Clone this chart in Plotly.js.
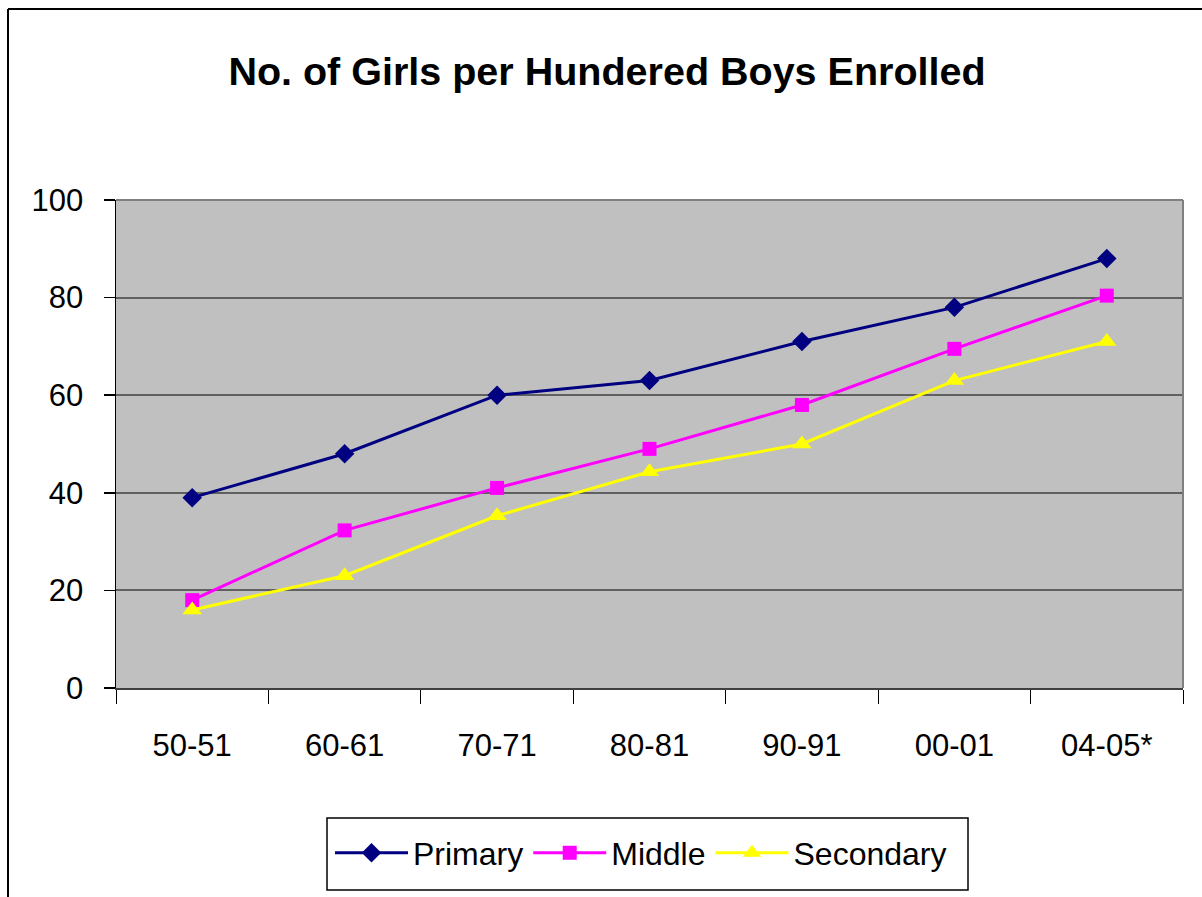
<!DOCTYPE html>
<html>
<head>
<meta charset="utf-8">
<script src="https://cdn.plot.ly/plotly-3.0.1.min.js"></script>
<style>
  html, body { margin: 0; padding: 0; background: #ffffff; }
  #chart { width: 1202px; height: 897px; }
</style>
</head>
<body>
<div id="chart"></div>
<script>
const categories = ["50-51", "60-61", "70-71", "80-81", "90-91", "00-01", "04-05*"];
const primary   = [39, 48, 60, 63, 71, 78, 88];
const middle    = [18, 32.3, 41, 49, 58, 69.5, 80.4];
const secondary = [16, 23, 35.3, 44.3, 50, 63, 71];
const yTicks = [0, 20, 40, 60, 80, 100];

const FONT = "Liberation Sans, Arial, sans-serif";

const traces = [
  { name: "Primary", x: categories, y: primary, type: "scatter", mode: "lines+markers",
    line: { color: "#000080", width: 3 },
    marker: { symbol: "diamond", size: 15, color: "#000080" } },
  { name: "Middle", x: categories, y: middle, type: "scatter", mode: "lines+markers",
    line: { color: "#FF00FF", width: 3 },
    marker: { symbol: "square", size: 14, color: "#FF00FF" } },
  { name: "Secondary", x: categories, y: secondary, type: "scatter", mode: "lines+markers",
    line: { color: "#FFFF00", width: 3 },
    marker: { symbol: "triangle-up", size: 17, color: "#FFFF00" } }
];

const L = 116, R = 19, T = 200, B = 209, W = 1202, H = 897;
const pw = W - L - R, ph = H - T - B;
const px = v => (v - L) / pw;
const py = v => (H - B - v) / ph;

const layout = {
  width: W, height: H,
  margin: { l: L, r: R, t: T, b: B, pad: 0 },
  paper_bgcolor: "#ffffff",
  plot_bgcolor: "#C0C0C0",
  font: { family: FONT, color: "#000000", size: 30 },
  title: { text: "<b>No. of Girls per Hundered Boys Enrolled</b>",
           font: { family: FONT, size: 39.5, color: "#000000" },
           x: (607 / W), xanchor: "center", xref: "container",
           y: 1 - 71 / H, yanchor: "middle", yref: "container" },
  showlegend: true,
  legend: {
    orientation: "h", x: px(330), xanchor: "left", y: py(853), yanchor: "middle",
    bgcolor: "rgba(0,0,0,0)", borderwidth: 0,
    font: { family: FONT, size: 32, color: "#000000" },
    itemwidth: 73, tracegroupgap: 0
  },
  xaxis: {
    type: "category", categoryorder: "array", categoryarray: categories,
    range: [-0.5, categories.length - 0.5], autorange: false,
    tickson: "boundaries", ticks: "outside", ticklen: 14, tickwidth: 1, tickcolor: "#000000",
    showline: true, linecolor: "#404040", linewidth: 2,
    showgrid: false, zeroline: false,
    tickfont: { family: FONT, size: 31, color: "#000000" },
    ticklabelstandoff: 29
  },
  yaxis: {
    range: [0, 100], autorange: false, tickmode: "array", tickvals: yTicks, ticktext: yTicks.map(String),
    ticks: "outside", ticklen: 11, tickwidth: 1.5, tickcolor: "#000000",
    showline: true, linecolor: "#000000", linewidth: 1.5,
    showgrid: true, gridcolor: "#606060", gridwidth: 2,
    zeroline: false,
    tickfont: { family: FONT, size: 31, color: "#000000" },
    ticklabelstandoff: 14
  },
  shapes: [
    { type: "line", xref: "paper", yref: "paper", x0: 1, x1: 1, y0: 0, y1: 1,
      line: { color: "#808080", width: 2 }, layer: "above" },
    { type: "line", xref: "paper", yref: "paper", x0: 0, x1: 1, y0: 1, y1: 1,
      line: { color: "#808080", width: 2 }, layer: "above" },
    { type: "rect", xref: "paper", yref: "paper", x0: px(327), x1: px(968), y0: py(818), y1: py(890),
      line: { color: "#000000", width: 1.5 }, fillcolor: "#ffffff", layer: "below" },
    { type: "line", xref: "paper", yref: "paper", x0: px(8), x1: px(1300), y0: py(9), y1: py(9),
      line: { color: "#000000", width: 2 } },
    { type: "line", xref: "paper", yref: "paper", x0: px(8), x1: px(8), y0: py(9), y1: py(1000),
      line: { color: "#000000", width: 2 } }
  ]
};

Plotly.newPlot("chart", traces, layout, { displayModeBar: false, staticPlot: true });
</script>
</body>
</html>
